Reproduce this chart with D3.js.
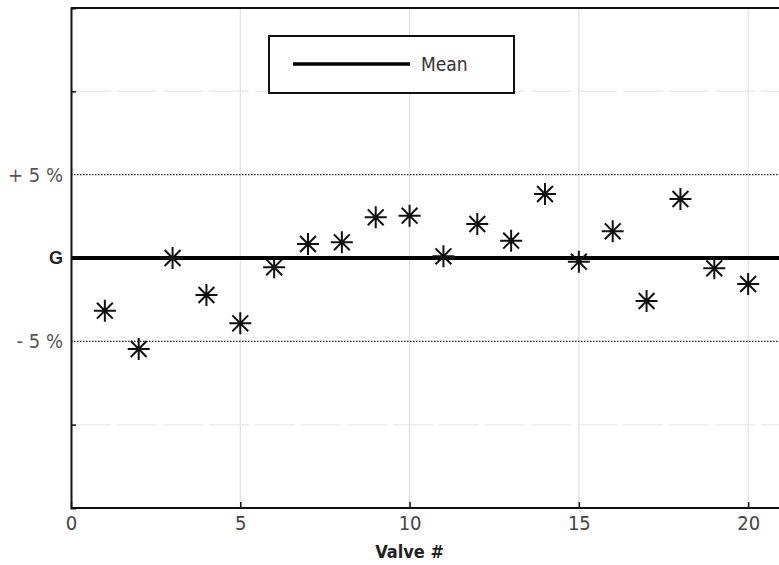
<!DOCTYPE html>
<html>
<head>
<meta charset="utf-8">
<script src="https://cdn.jsdelivr.net/npm/d3@7"></script>
<style>
  body { margin: 0; background: #fff; }
  text { font-family: "DejaVu Sans Condensed", "DejaVu Sans", sans-serif; font-stretch: condensed; }
</style>
</head>
<body>
<div id="chart"></div>
<script>
const valves = d3.range(1, 21)
const deviation = [-3.16, -5.46, 0.0, -2.22, -3.92, -0.56, 0.84, 0.94, 2.44, 2.54,
  0.1, 2.04, 1.04, 3.84, -0.22, 1.6, -2.58, 3.54, -0.62, -1.56]
const xTicks = [0, 5, 10, 15, 20]
const yLabels = [{v: 5, t: '+ 5 %'}, {v: 0, t: 'G'}, {v: -5, t: '- 5 %'}]
const yGrid = [-10, 10]

const width = 779, height = 565
const margin = {top: 8, left: 71, bottom: 57}
const condensed = '"DejaVu Sans Condensed", "DejaVu Sans", sans-serif'

const x = d3.scaleLinear().domain([0, 21]).range([margin.left, 782])
const y = d3.scaleLinear().domain([-15, 15]).range([height - margin.bottom, margin.top])

const svg = d3.select('#chart').append('svg')
  .attr('width', width)
  .attr('height', height)

// faint grid
svg.append('g').selectAll('line').data(xTicks.slice(1))
  .join('line')
  .attr('x1', d => x(d)).attr('x2', d => x(d))
  .attr('y1', y(15)).attr('y2', y(-15))
  .attr('stroke', '#dadada').attr('stroke-width', 1)
svg.append('g').selectAll('line').data(yGrid)
  .join('line')
  .attr('x1', x(0)).attr('x2', width)
  .attr('y1', d => y(d)).attr('y2', d => y(d))
  .attr('stroke', '#ebebeb').attr('stroke-width', 1.5)
  .attr('stroke-dasharray', '40,6')

// +/- 5 % limits
svg.append('g').selectAll('line').data([5, -5])
  .join('line')
  .attr('x1', x(0)).attr('x2', width)
  .attr('y1', d => y(d)).attr('y2', d => y(d))
  .attr('stroke', '#222').attr('stroke-width', 1.3)
  .attr('stroke-dasharray', '1.5,1.5')

// mean line
svg.append('line')
  .attr('x1', x(0)).attr('x2', width)
  .attr('y1', y(0)).attr('y2', y(0))
  .attr('stroke', '#000').attr('stroke-width', 4)

// frame
svg.append('line')
  .attr('x1', x(0)).attr('x2', width)
  .attr('y1', y(15)).attr('y2', y(15))
  .attr('stroke', '#111').attr('stroke-width', 2)

const xAxis = d3.axisBottom(x).tickValues(xTicks).tickSize(-6).tickPadding(8)
const gx = svg.append('g')
  .attr('transform', `translate(0,${y(-15)})`)
  .call(xAxis)
gx.select('.domain').attr('d', `M${x(0)},0H${width}`).attr('stroke', '#111').attr('stroke-width', 2)
gx.selectAll('.tick line').attr('stroke', '#111').attr('stroke-width', 1.5)
gx.selectAll('.tick text')
  .attr('font-size', 20).attr('fill', '#444')
  .style('font-family', condensed)

const yAxis = d3.axisLeft(y).tickValues([-10, 10]).tickSize(-5).tickFormat('')
const gy = svg.append('g')
  .attr('transform', `translate(${x(0)},0)`)
  .call(yAxis)
gy.select('.domain').attr('stroke', '#111').attr('stroke-width', 2)
gy.selectAll('.tick line').attr('stroke', '#111').attr('stroke-width', 1.5)

svg.append('g').selectAll('text').data(yLabels)
  .join('text')
  .attr('x', x(0) - 8)
  .attr('y', d => y(d.v))
  .attr('dy', '0.35em')
  .attr('text-anchor', 'end')
  .attr('font-size', d => d.v === 0 ? 18 : 20)
  .attr('font-weight', d => d.v === 0 ? 'bold' : 'normal')
  .attr('fill', d => d.v === 0 ? '#222' : '#555')
  .style('font-family', d => d.v === 0 ? '"Liberation Sans", sans-serif' : condensed)
  .text(d => d.t)

svg.append('text')
  .attr('x', x(10))
  .attr('y', 558)
  .attr('text-anchor', 'middle')
  .attr('font-size', 18)
  .attr('font-weight', 'bold')
  .attr('fill', '#222')
  .style('font-family', condensed)
  .text('Valve #')

// asterisk markers
const arm = 11
const star = `M${-arm},0H${arm}M0,${-arm}V${arm}` +
  `M${-arm * 0.72},${-arm * 0.72}L${arm * 0.72},${arm * 0.72}` +
  `M${-arm * 0.72},${arm * 0.72}L${arm * 0.72},${-arm * 0.72}`
svg.append('g').selectAll('path').data(valves)
  .join('path')
  .attr('transform', (d, i) => `translate(${x(d)},${y(deviation[i])})`)
  .attr('d', star)
  .attr('stroke', '#111')
  .attr('stroke-width', 2)
  .attr('fill', 'none')

// legend
const lg = svg.append('g').attr('transform', 'translate(269,36)')
lg.append('rect')
  .attr('width', 245).attr('height', 57)
  .attr('fill', '#fff').attr('stroke', '#111').attr('stroke-width', 2)
lg.append('line')
  .attr('x1', 24).attr('x2', 141).attr('y1', 28).attr('y2', 28)
  .attr('stroke', '#000').attr('stroke-width', 3.5)
lg.append('text')
  .attr('x', 152).attr('y', 28).attr('dy', '0.35em')
  .attr('font-size', 19).attr('fill', '#333')
  .style('font-family', condensed)
  .text('Mean')
</script>
</body>
</html>
